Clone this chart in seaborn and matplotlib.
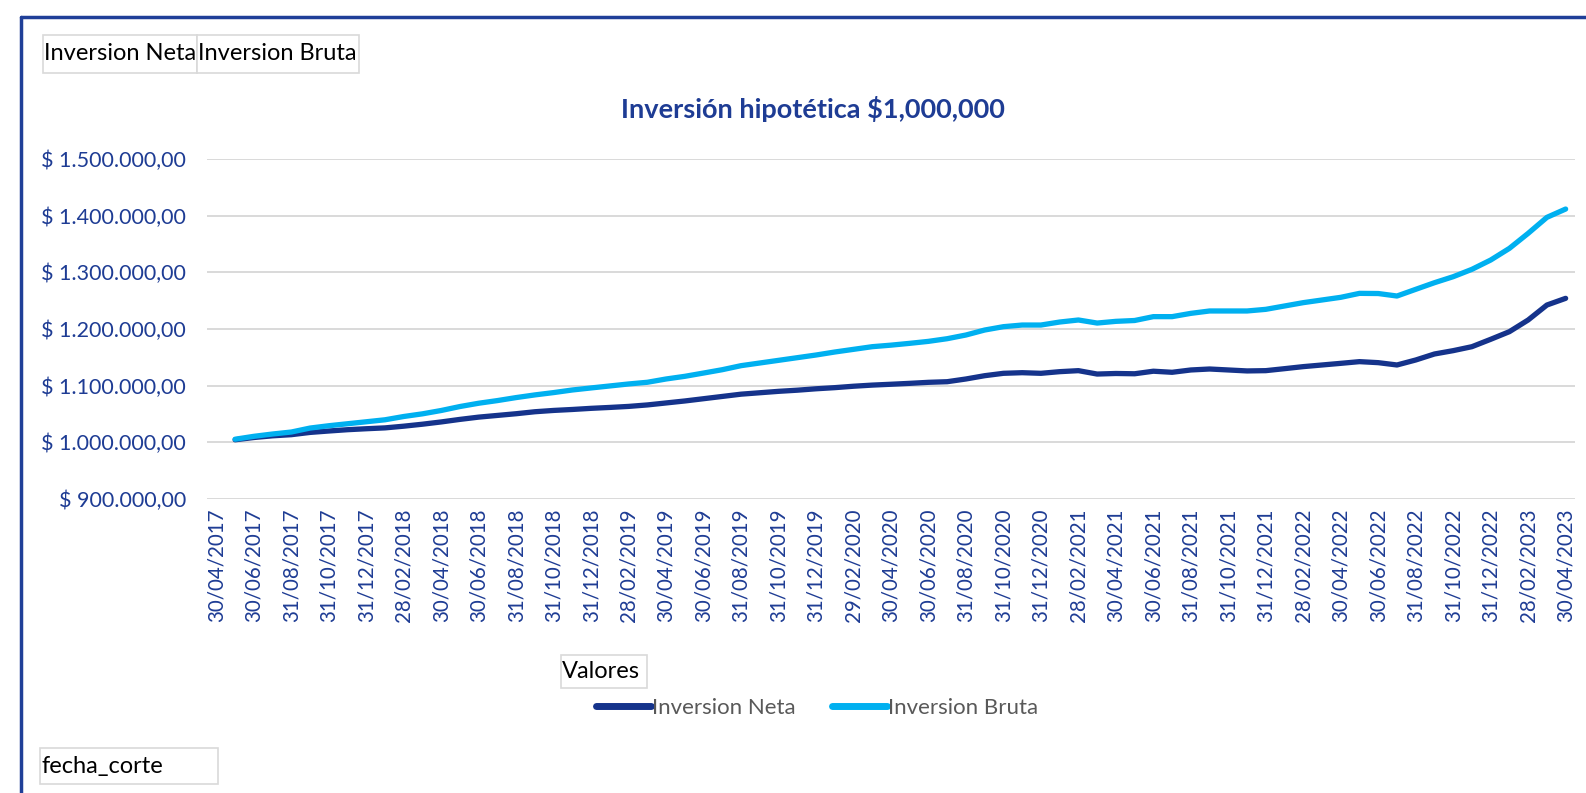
import numpy as np
import pandas as pd
import matplotlib
matplotlib.use("Agg")
import matplotlib.pyplot as plt
from matplotlib.patches import Rectangle
from matplotlib.lines import Line2D
import seaborn as sns

# Month-end cut dates (categories on the x axis)
fechas = pd.date_range("2017-04-30", periods=73, freq=pd.offsets.MonthEnd())

# Values (first month has no value)
inversion_neta = [
    np.nan, 1004500, 1008500, 1011500, 1013500, 1017500, 1020000, 1022300, 1024000, 1025500,
    1028500, 1032000, 1036000, 1040500, 1044500, 1047500, 1050500, 1054000, 1056300, 1058000,
    1060000, 1061600, 1063400, 1066000, 1069500, 1073000, 1077000, 1081000, 1085000, 1087500,
    1090000, 1092000, 1094500, 1096500, 1099000, 1101000, 1102500, 1104100, 1105900, 1107000,
    1111800, 1117600, 1121800, 1122900, 1121800, 1124700, 1126500, 1120500, 1121500, 1121000,
    1125500, 1123600, 1127700, 1129400, 1127700, 1126000, 1126500, 1130000, 1133600, 1136500,
    1139400, 1142400, 1140600, 1136500, 1145300, 1155900, 1161800, 1168800, 1181800, 1195300,
    1215900, 1242300, 1254100,
]
inversion_bruta = [
    np.nan, 1005500, 1010600, 1014700, 1018200, 1025200, 1029300, 1032800, 1036300, 1039800,
    1045600, 1050300, 1056200, 1063200, 1069000, 1073700, 1079000, 1083700, 1087800, 1092400,
    1096000, 1099500, 1103000, 1106000, 1111800, 1116500, 1122300, 1128200, 1135300, 1140000,
    1144700, 1149400, 1154100, 1159400, 1164100, 1168800, 1171500, 1174700, 1178200, 1182900,
    1189400, 1198200, 1204100, 1207000, 1207000, 1212300, 1215900, 1210500, 1213500, 1215000,
    1221800, 1221800, 1227600, 1231800, 1231800, 1231800, 1234700, 1240600, 1246500, 1251200,
    1255900, 1262900, 1262600, 1258200, 1270000, 1281700, 1292300, 1305300, 1321700, 1342300,
    1368800, 1397000, 1411700,
]
series = ["Inversion Neta", "Inversion Bruta"]
colores = {"Inversion Neta": "#15338B", "Inversion Bruta": "#00B0F0"}
y_ticks = [900000, 1000000, 1100000, 1200000, 1300000, 1400000, 1500000]

sns.set_theme(style="white")
plt.rcParams["font.family"] = ["Lato", "DejaVu Sans"]

W, H = 1586, 793
azul = "#1E3C94"


def fx(x):
    return x / W


def fy(y):
    return 1 - y / H


df = pd.DataFrame({"pos": np.arange(len(fechas)),
                   "Inversion Neta": inversion_neta,
                   "Inversion Bruta": inversion_bruta})
largo = df.melt(id_vars="pos", value_vars=series, var_name="serie", value_name="valor")

fig = plt.figure(figsize=(W / 100, H / 100), dpi=100)
ax = fig.add_axes([fx(207), fy(499), fx(1575) - fx(207), fy(159) - fy(499)])

sns.lineplot(data=largo, x="pos", y="valor", hue="serie", hue_order=series,
             palette=colores, linewidth=3.8, ax=ax, legend=False,
             solid_capstyle="round", solid_joinstyle="round")

ax.set_xlim(-0.5, len(fechas) - 0.5)
ax.set_ylim(y_ticks[0], y_ticks[-1])
ax.set_yticks(y_ticks)
ax.set_yticklabels(["\\$ " + f"{v:,.2f}".replace(",", "X").replace(".", ",").replace("X", ".")
                    for v in y_ticks])
pos_ticks = list(range(0, len(fechas), 2))
ax.set_xticks(pos_ticks)
ax.set_xticklabels([fechas[i].strftime("%d/%m/%Y") for i in pos_ticks], rotation=90)
ax.set_xlabel("")
ax.set_ylabel("")
ax.yaxis.grid(True, color="#D9D9D9", linewidth=1.4)
ax.xaxis.grid(False)
ax.set_axisbelow(True)
for s in ax.spines.values():
    s.set_visible(False)
ax.tick_params(axis="y", length=0, pad=15, labelsize=15.5, labelcolor=azul)
ax.tick_params(axis="x", length=0, pad=7, labelsize=14.8, labelcolor=azul)

# title
fig.text(fx(813), fy(109), "Inversión hipotética \\$1,000,000", ha="center", va="center",
         fontsize=19.5, fontweight="bold", color=azul)

# chart border (left and top)
fig.add_artist(Line2D([fx(21), fx(21)], [fy(17), 0], color="#1F3F98", linewidth=2.5))
fig.add_artist(Line2D([fx(21), 1], [fy(17), fy(17)], color="#1F3F98", linewidth=2.5))


def caja(x0, y0, x1, y1, texto):
    fig.add_artist(Rectangle((fx(x0), fy(y1)), fx(x1) - fx(x0), fy(y0) - fy(y1),
                             facecolor="white", edgecolor="#D9D9D9", linewidth=1.2))
    fig.text(fx(x0 + 1), fy((y0 + y1) / 2), texto, ha="left", va="center",
             fontsize=17, color="black")


caja(43, 35, 197, 73, "Inversion Neta")
caja(197, 35, 359, 73, "Inversion Bruta")
caja(561, 655, 647, 688, "Valores")
caja(40, 748, 218, 784, "fecha_corte")

handles = [Line2D([], [], color=colores[s], linewidth=5, solid_capstyle="round") for s in series]
fig.legend(handles, series, loc="center", bbox_to_anchor=(fx(817), fy(708)), ncol=2,
           frameon=False, fontsize=16, labelcolor="#595959", handlelength=2.5,
           handletextpad=0.05, columnspacing=1.6)

fig.savefig("out.png", dpi=100, facecolor="white")
